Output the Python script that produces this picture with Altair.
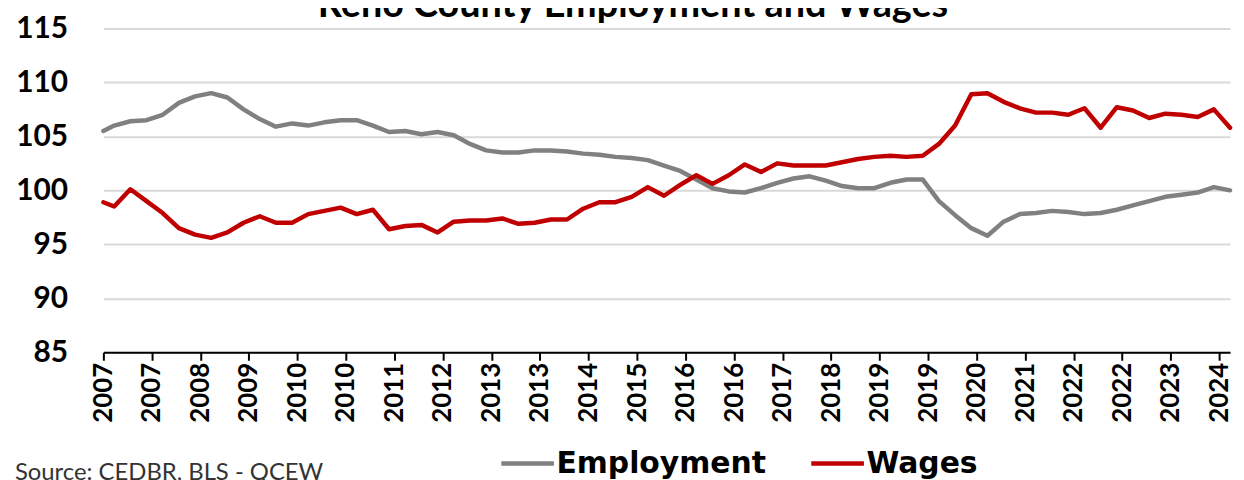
import altair as alt
import pandas as pd

chart_title = "Reno County Employment and Wages"
source_note = "Source: CEDBR, BLS - QCEW"
series_names = ["Employment", "Wages"]
series_colors = ["#808080", "#c00000"]

# months since Jan 2007 (first point Jan 2007, then quarterly points)
months = [0] + list(range(2, 210, 3))

employment = [
    105.5, 106.0, 106.4, 106.5, 107.0, 108.1, 108.7, 109.0, 108.6, 107.5,
    106.6, 105.9, 106.2, 106.0, 106.3, 106.5, 106.5, 106.0, 105.4, 105.5,
    105.2, 105.4, 105.1, 104.3, 103.7, 103.5, 103.5, 103.7, 103.7, 103.6,
    103.4, 103.3, 103.1, 103.0, 102.8, 102.3, 101.8, 101.0, 100.2, 99.9,
    99.8, 100.2, 100.7, 101.1, 101.3, 100.9, 100.4, 100.2, 100.2, 100.7,
    101.0, 101.0, 99.0, 97.7, 96.5, 95.8, 97.1, 97.8, 97.9, 98.1,
    98.0, 97.8, 97.9, 98.2, 98.6, 99.0, 99.4, 99.6, 99.8, 100.3,
    100.0,
]

wages = [
    98.9, 98.5, 100.1, 99.0, 97.9, 96.5, 95.9, 95.6, 96.1, 97.0,
    97.6, 97.0, 97.0, 97.8, 98.1, 98.4, 97.8, 98.2, 96.4, 96.7,
    96.8, 96.1, 97.1, 97.2, 97.2, 97.4, 96.9, 97.0, 97.3, 97.3,
    98.3, 98.9, 98.9, 99.4, 100.3, 99.5, 100.5, 101.4, 100.6, 101.4,
    102.4, 101.7, 102.5, 102.3, 102.3, 102.3, 102.6, 102.9, 103.1, 103.2,
    103.1, 103.2, 104.3, 106.0, 108.9, 109.0, 108.2, 107.6, 107.2, 107.2,
    107.0, 107.6, 105.8, 107.7, 107.4, 106.7, 107.1, 107.0, 106.8, 107.5,
    105.8,
]

tick_months = list(range(0, 208, 9))
tick_labels = ["2007", "2007", "2008", "2009", "2010", "2010", "2011", "2012",
               "2013", "2013", "2014", "2015", "2016", "2016", "2017", "2018",
               "2019", "2019", "2020", "2021", "2022", "2022", "2023", "2024"]
y_ticks = [85, 90, 95, 100, 105, 110, 115]

rows = []
for name, vals in zip(series_names, [employment, wages]):
    for m, v in zip(months, vals):
        rows.append({"series": name, "month": m, "value": v})
df = pd.DataFrame(rows)

label_expr = "[" + ",".join("'" + t + "'" for t in tick_labels) + "][round(datum.value/9)]"

FONT = "Lato"

lines = alt.Chart(df).mark_line(strokeWidth=4.5, strokeJoin="round", strokeCap="round").encode(
    x=alt.X("month:Q",
            scale=alt.Scale(domain=[0, 209], nice=False, zero=False),
            axis=alt.Axis(values=tick_months, labelExpr=label_expr, labelAngle=270,
                          labelFont=FONT, labelFontSize=26, labelFontWeight="bold",
                          labelColor="black", labelPadding=2, labelOverlap=False,
                          domainColor="black", domainWidth=2, tickColor="black",
                          tickWidth=2, tickSize=8, grid=False, title=None)),
    y=alt.Y("value:Q",
            scale=alt.Scale(domain=[85, 115], nice=False, zero=False),
            axis=alt.Axis(values=y_ticks, labelFont=FONT, labelFontSize=30,
                          labelFontWeight="bold", labelColor="black", labelPadding=36,
                          ticks=False, tickSize=0, domain=False, grid=True,
                          gridColor="#d9d9d9", gridWidth=2, title=None)),
    color=alt.Color("series:N",
                    scale=alt.Scale(domain=series_names, range=series_colors),
                    legend=alt.Legend(orient="none", legendX=398, legendY=409,
                                      direction="horizontal", title=None,
                                      symbolType="stroke", symbolStrokeWidth=4.5,
                                      symbolSize=2809, labelFont="DejaVu Sans",
                                      labelFontSize=30, labelFontWeight="bold",
                                      labelColor="black", labelLimit=0,
                                      labelOffset=0, columnPadding=36, padding=0)),
)

title_layer = alt.Chart(pd.DataFrame({"t": [chart_title]})).mark_text(
    font=FONT, fontSize=38, fontWeight="bold", align="center", baseline="alphabetic",
    color="black").encode(text="t:N", x=alt.value(533), y=alt.value(-11))

source_layer = alt.Chart(pd.DataFrame({"t": [source_note]})).mark_text(
    font=FONT, fontSize=24, align="left", baseline="alphabetic",
    color="#333333").encode(text="t:N", x=alt.value(-89), y=alt.value(455))

chart = alt.layer(lines, title_layer, source_layer).properties(
    width=1134, height=326,
    autosize=alt.AutoSizeParams(type="none"),
    padding={"left": 96, "top": 19, "right": 6, "bottom": 127},
    background="white",
).configure_view(stroke=None)

chart.save("out.html", embed_options={"renderer": "svg", "actions": False})
